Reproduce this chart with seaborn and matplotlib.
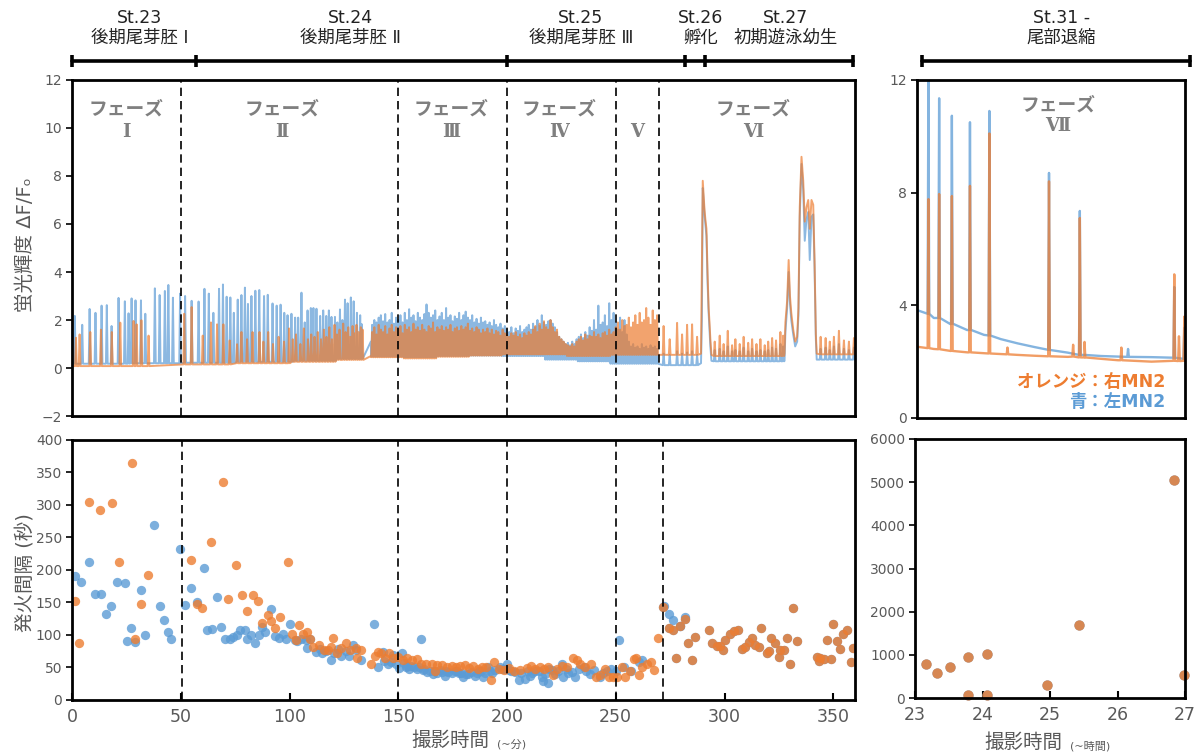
import numpy as np
import matplotlib
matplotlib.use("Agg")
import matplotlib.pyplot as plt
import seaborn as sb

sb.set_style("white")
plt.rcParams["font.family"] = ["DejaVu Sans", "Noto Sans CJK JP"]

BLUE = "#5B9BD5"
ORANGE = "#ED7D31"
GREY = "#595959"

# ---------------- stage / phase annotations ----------------
stage_edges = [0, 57, 200, 282, 291, 359]
stage_names = ["St.23\n後期尾芽胚 Ⅰ", "St.24\n後期尾芽胚 Ⅱ", "St.25\n後期尾芽胚 Ⅲ", "St.26\n孵化", "St.27\n初期遊泳幼生"]
stage_r_edges = [23.07, 27.07]
stage_r_name = "St.31 -\n尾部退縮"
phase_lines_top = [50, 150, 200, 250, 270]
phase_lines_bot = [50.5, 150, 200, 250, 271.5]
phase_nums = ["Ⅰ", "Ⅱ", "Ⅲ", "Ⅳ", "Ⅴ", "Ⅵ"]

# ---------------- fluorescence trace, minutes 0-360 ----------------
# phase I-II: discrete spikes (time, peak, foot)
blue_t1 = [1.3, 4.7, 8.1, 10.8, 13.6, 16.0, 18.2, 21.4, 24.3, 26.0,
           27.4, 29.2, 31.7, 33.7, 38.1, 40.3, 42.7, 44.3, 46.4, 49.7,
           52.0, 55.0, 58.2, 60.9, 62.9, 65.0, 67.6, 69.4, 71.1, 72.8,
           74.4, 76.2, 77.9, 79.5, 80.9, 82.5, 84.3, 86.1, 88.3, 90.0,
           92.2, 94.1, 95.9, 97.6, 99.1, 100.9, 102.6, 104.0, 105.5, 107.0,
           108.3, 109.8, 111.0, 112.4, 114.1, 115.5, 116.9, 118.1, 119.3, 120.9,
           122.0, 123.2, 124.3, 125.5, 126.7, 128.2, 129.5, 131.0, 132.5, 133.2]
blue_p1 = [2.17, 1.8, 2.46, 2.3, 2.6, 2.62, 1.75, 2.92, 2.78, 2.28,
           2.9, 2.82, 2.82, 2.26, 3.32, 3.04, 3.21, 3.46, 2.93, 3.1,
           3.0, 2.8, 2.77, 3.3, 3.1, 2.3, 3.3, 3.48, 2.97, 2.94,
           2.3, 2.85, 3.04, 3.35, 2.67, 3.0, 3.22, 3.25, 3.0, 3.05,
           2.69, 2.6, 2.64, 2.3, 2.2, 2.26, 2.1, 2.1, 3.14, 1.9,
           2.4, 2.5, 2.5, 2.47, 2.17, 2.4, 2.17, 2.4, 2.13, 2.13,
           1.9, 2.44, 2.0, 2.85, 2.7, 2.94, 2.78, 2.3, 2.2, 1.83]
blue_f1 = [0.18] * 10 + [0.2] * 10 + [0.22] * 11 + [0.26] * 15 + [0.3] * 14 + [0.38] * 10

orng_t1 = [1.8, 3.5, 8.4, 13.3, 18.3, 22.2, 28.3, 29.7, 31.9, 35.2,
           51.6, 55.0, 60.1, 63.9, 66.7, 69.6, 72.5, 75.9, 77.9, 80.5,
           83.0, 86.2, 88.0, 90.2, 92.4, 95.0, 97.5, 99.8, 101.5, 103.0,
           105.0, 106.6, 108.5, 110.0, 111.5, 113.0, 114.5, 115.8, 117.0, 118.3,
           119.5, 120.7, 121.8, 123.0, 124.7, 125.8, 127.0, 128.0, 129.0, 130.0,
           130.8, 131.8, 132.8, 133.6]
orng_p1 = [1.26, 1.4, 1.5, 1.6, 1.5, 1.89, 1.96, 1.82, 1.99, 1.35,
           2.26, 2.54, 1.35, 1.9, 1.82, 1.82, 1.15, 0.99, 1.5, 1.2,
           1.5, 1.5, 1.1, 1.5, 1.0, 1.3, 1.1, 1.65, 1.2, 1.4,
           1.0, 1.65, 1.2, 1.4, 1.3, 1.5, 1.2, 1.6, 1.3, 1.7,
           1.2, 1.8, 1.4, 1.6, 1.85, 1.5, 1.7, 1.3, 1.75, 1.45,
           1.8, 1.5, 1.7, 1.6]
orng_f1 = [0.08] * 10 + [0.15] * 7 + [0.2] * 11 + [0.26] * 14 + [0.34] * 12

# phase III-V: one reading per minute, 138-269 min
dense_t = np.arange(138, 270)
orng_pd = [1.5, 1.7, 1.4, 1.8, 1.6, 1.5, 1.75, 1.4, 1.65, 1.8, 1.5, 1.7,
           1.6, 1.75, 1.45, 1.8, 1.6, 1.7, 1.5, 1.85, 1.6, 1.7,
           1.55, 1.8, 1.6, 1.5, 1.75, 1.65, 1.9, 1.5, 1.7, 1.6,
           1.75, 1.55, 1.7, 1.6, 1.8, 1.5, 1.65, 1.7, 1.55, 1.75,
           1.6, 1.7, 1.85, 1.55, 1.65, 1.5, 1.7, 1.6, 1.45, 1.6,
           1.5, 1.65, 1.45, 1.6, 1.4, 1.55, 1.5, 1.35, 1.6, 1.45,
           1.4, 1.3, 1.45, 1.35, 1.5, 1.3, 1.4, 1.25, 1.45, 1.35,
           1.5, 1.4, 1.6, 1.75, 1.5, 1.85, 1.6, 1.95, 1.7, 1.6,
           2.0, 1.7, 1.5, 1.6, 1.3, 1.2, 1.1, 1.0, 0.95, 0.9,
           1.0, 0.9, 1.1, 1.2, 1.3, 1.15, 1.4, 1.2, 1.35, 1.3,
           1.5, 1.3, 1.4, 1.25, 1.45, 1.5, 1.35, 1.6, 1.4, 1.5,
           1.7, 1.9, 1.6, 2.0, 1.75, 1.8, 2.1, 1.7, 1.9, 2.2,
           1.8, 2.3, 1.9, 2.0, 2.5, 2.1, 1.8, 2.4, 2.0, 2.2]
orng_fd = [0.45] * 15 + [0.4] * 15 + [0.47] * 15 + [0.52] * 15 + [0.57] * 30 + [0.5] * 20 + [0.55] * 22
blue_pd = [1.8, 2.0, 1.9, 2.1, 2.2, 1.95, 2.25, 1.9, 2.0, 2.3, 1.85, 2.1,
           2.0, 2.2, 1.9, 2.3, 2.0, 2.45, 2.1, 2.2, 1.95, 2.3,
           2.1, 2.0, 2.25, 2.65, 2.3, 2.1, 2.2, 2.4, 2.0, 2.15,
           2.3, 2.0, 2.5, 2.1, 2.2, 1.95, 2.15, 2.05, 2.3, 2.0,
           2.2, 2.35, 2.1, 2.0, 2.2, 1.9, 2.05, 1.85, 2.1, 1.9,
           1.95, 1.8, 1.9, 1.75, 2.0, 1.8, 1.7, 1.85, 1.65, 1.75,
           1.6, 1.5, 1.7, 1.45, 1.65, 1.55, 1.75, 1.5, 1.6, 1.7,
           1.8, 1.6, 1.85, 1.7, 2.0, 1.75, 2.2, 1.9, 1.8, 1.95,
           2.0, 1.85, 1.7, 1.5, 1.3, 1.2, 1.1, 1.0, 1.05, 0.95,
           1.1, 1.0, 1.2, 1.3, 1.4, 1.25, 1.5, 1.35, 1.7, 1.55,
           2.0, 1.6, 2.6, 1.8, 1.9, 2.2, 1.75, 2.7, 2.0, 2.3,
           1.9, 1.6, 2.1, 1.5, 2.0, 1.4, 1.1, 0.9, 1.0, 0.85,
           0.9, 0.8, 1.0, 0.85, 0.9, 0.8, 0.95, 0.85, 0.9, 0.8]
blue_fd = [0.48] * 15 + [0.45] * 15 + [0.5] * 15 + [0.52] * 15 + [0.5] * 20 + [0.35] * 15 + [0.28] * 15 + [0.18] * 22

# phase VI: spikes plus two bursts
vi_t = [272.0, 274.8, 278.2, 280.5, 282.8, 285.1, 287.4,
        295.5, 297.8, 299.6, 301.5, 303.5, 305.0, 307.0, 308.8, 310.9,
        312.7, 314.7, 316.5, 318.5, 320.1, 321.9, 323.7, 325.7, 327.0,
        344.2, 346.5, 348.4, 350.3, 352.6, 354.9, 357.2, 359.5]
orng_p6 = [1.75, 1.2, 1.88, 1.4, 1.8, 1.82, 1.3,
           1.1, 1.35, 1.0, 1.55, 0.95, 1.2, 1.0, 1.3, 1.05,
           1.2, 1.0, 1.2, 0.95, 1.1, 1.25, 1.15, 1.5, 1.35,
           1.3, 1.25, 1.1, 1.3, 1.55, 1.15, 1.1, 1.25]
orng_f6 = [0.55] * 7 + [0.5] * 18 + [0.57] * 8
blue_p6 = [0.6, 0.55, 0.7, 0.6, 0.65, 0.7, 0.55,
           0.75, 0.8, 0.7, 0.9, 0.7, 0.75, 0.7, 0.85, 0.7,
           0.8, 0.7, 0.75, 0.7, 0.75, 0.85, 0.8, 1.0, 0.9,
           0.8, 0.85, 0.75, 0.9, 1.0, 0.8, 0.75, 0.85]
blue_f6 = [0.12] * 7 + [0.28] * 18 + [0.35] * 8

burst1_t = [289.2, 289.6, 290.0, 290.4, 290.8, 291.2, 291.7, 292.2, 292.7, 293.1, 293.5, 294.0]
burst1_o = [0.6, 4.0, 7.8, 7.2, 6.6, 6.2, 5.8, 4.0, 2.5, 1.9, 1.2, 0.55]
burst1_b = [0.2, 2.0, 7.5, 7.0, 6.4, 6.0, 5.5, 3.6, 2.3, 1.6, 0.9, 0.3]
burst2_t = [327.6, 328.0, 328.8, 329.5, 330.1, 330.7, 331.6, 332.5, 333.4, 334.0, 334.6,
            335.4, 336.2, 336.9, 337.7, 338.5, 339.2, 340.0, 340.8, 341.4, 342.0, 342.4]
burst2_o = [0.6, 1.9, 2.8, 4.5, 3.0, 2.3, 1.6, 1.1, 1.3, 2.5, 6.7,
            8.8, 7.8, 6.1, 6.7, 7.0, 5.8, 7.0, 6.8, 4.5, 1.4, 0.6]
burst2_b = [0.3, 1.5, 2.5, 4.0, 2.7, 2.0, 1.4, 0.9, 1.1, 2.2, 6.3,
            8.5, 7.4, 5.3, 6.2, 6.5, 4.5, 6.3, 6.4, 4.2, 1.2, 0.35]

# baseline anchors (start, gap at 134-137 min, end)
orng_knot_t = [0, 134.0, 137.4, 360]
orng_knot_v = [0.08, 0.36, 0.5, 0.57]
blue_knot_t = [0, 134.0, 137.4, 360]
blue_knot_v = [0.18, 0.45, 1.1, 0.35]

# ---------------- fluorescence trace, hours 23-27 ----------------
base_r_t = [23.0, 23.25, 23.5, 23.75, 24.0, 24.25, 24.5, 24.75, 25.0, 25.25, 25.5, 25.75, 26.0, 26.5, 27.0]
blue_base_r = [3.83, 3.55, 3.33, 3.12, 2.95, 2.8, 2.65, 2.52, 2.41, 2.32, 2.24, 2.2, 2.18, 2.16, 2.1]
orng_base_r = [2.53, 2.45, 2.38, 2.33, 2.3, 2.27, 2.24, 2.21, 2.19, 2.17, 2.15, 2.1, 2.05, 2.0, 2.03]
spk_r_t = [23.17, 23.33, 23.52, 23.79, 24.08, 24.97, 25.43, 26.84, 26.99]
blue_spk_r = [12.3, 11.35, 10.73, 10.5, 10.9, 8.7, 7.35, 4.65, 3.2]
blue_foot_r = [3.7, 3.55, 3.35, 3.13, 2.93, 2.42, 2.24, 2.14, 2.1]
orng_spk_r = [7.77, 7.95, 7.88, 8.24, 10.1, 8.4, 7.1, 5.1, 3.6]
orng_foot_r = [2.48, 2.44, 2.38, 2.33, 2.29, 2.19, 2.15, 2.03, 2.03]
small_r_t = [24.35, 25.33, 25.5, 26.05, 26.91]
orng_small_r = [2.5, 2.6, 2.7, 2.5, 2.9]
orng_small_f = [2.26, 2.18, 2.15, 2.05, 2.02]
blue_small_t = [26.15]
blue_small_r = [2.45]
blue_small_f = [2.17]

# ---------------- firing intervals (s) ----------------
blue_x = [1.2, 4.2, 7.6, 10.8, 13.4, 15.7, 18.0, 20.6, 24.2, 25.2,
          27.2, 28.8, 31.8, 33.4, 37.7, 40.3, 42.3, 44.1, 45.7, 49.5,
          51.8, 54.9, 57.5, 60.7, 62.2, 64.4, 66.8, 68.7, 70.5, 72.5,
          74.0, 75.9, 77.4, 79.4, 80.5, 82.2, 84.0, 86.0, 87.4, 88.9,
          91.7, 93.4, 95.2, 97.1, 98.3, 100.4, 102.4, 103.5, 105.5, 107.5,
          108.1, 109.3, 112.1, 113.9, 115.0, 117.0, 119.0, 120.5, 122.4, 123.9,
          126.2, 127.4, 129.0, 130.5, 132.8, 139.0, 140.8, 142.8, 145.4, 147.4,
          150.3, 151.5, 153.5, 155.1, 157.2, 160.4, 161.5, 163.0, 165.8, 167.6,
          171.5, 173.0, 176, 179, 180, 182, 185.3, 187, 189.1, 191.4,
          193, 196.8, 200.2, 202, 205.3, 208.3, 210.6, 213, 216.0, 216.7,
          218.8, 219.1, 222, 225.2, 225.7, 228, 231.4, 235.2, 238, 242.9,
          246, 251.3, 253.6, 257, 260.5, 262.1, 272.0, 274.3, 276.4, 279.7,
          282.0,
          143.5, 146.5, 149, 152.5, 154, 156, 158.5, 159.5, 162, 164.5,
          166.5, 169, 170, 172, 174.5, 177, 178, 181, 183.5, 186,
          188, 190, 192, 194.5, 197.5, 199, 201, 203.5, 206.5, 209.5,
          211.5, 214.5, 217.5, 220.5, 223.5, 227, 230, 233, 236.5, 240,
          244, 248, 250]
blue_y = [190, 182, 212, 163, 163, 133, 144, 182, 180, 91,
          111, 89, 169, 100, 269, 145, 123, 104, 94, 232,
          146, 172, 150, 203, 107, 109, 159, 112, 94, 94,
          97, 100, 107, 108, 94, 100, 88, 100, 112, 104,
          140, 99, 96, 102, 94, 117, 93, 90, 94, 92,
          80, 94, 74, 79, 73, 76, 62, 73, 79, 68,
          76, 67, 85, 77, 62, 117, 50, 74, 56, 69,
          49, 72, 50, 47, 51, 94, 46, 43, 40, 41,
          37, 43, 45, 42, 35, 40, 37, 44, 36, 51,
          42, 51, 55, 44, 31, 33, 37, 44, 35, 29,
          26, 48, 40, 55, 36, 42, 35, 51, 40, 35,
          44, 92, 51, 45, 58, 62, 145, 133, 123, 114,
          127,
          60, 58, 55, 57, 52, 53, 48, 50, 47, 45,
          44, 46, 43, 45, 41, 44, 42, 40, 43, 41,
          45, 42, 44, 46, 48, 47, 46, 43, 42, 45,
          41, 44, 40, 46, 44, 47, 43, 48, 45, 46,
          42, 47, 44]
orng_x = [1.6, 3.0, 7.7, 13.0, 18.2, 21.5, 27.4, 29.1, 31.7, 34.9,
          54.9, 57.5, 59.6, 63.8, 69.3, 71.9, 75.6, 78.2, 80.3, 83.0,
          85.7, 87.4, 90.0, 91.5, 93.4, 95.8, 99.4, 101.2, 102.9, 104.4,
          106.0, 108.0, 109.4, 110.9, 113.5, 115.8, 117.8, 119.0, 120.1, 121.9,
          123.9, 126.2, 127.8, 130.5, 131.1, 133.1, 137.7, 139.3, 140.8, 142.0,
          143.9, 145.9, 147.7, 149.7, 152.3, 154.1, 156.2, 158.5, 160.3, 162.8,
          165.4, 166.8, 167.7, 170.0, 172.3, 174.5, 176.5, 178.5, 180.7, 182.5,
          184.5, 186.5, 188.5, 190.5, 192.7, 194.1, 196.2, 198.4, 201.0, 203.0,
          206.0, 209.1, 211.0, 212.9, 215.0, 216.8, 219.0, 221.1, 223.0, 225.5,
          227.5, 230.3, 232.1, 233.7, 236.0, 238.7, 241.0, 242.9, 245.2, 246.7,
          248.7, 250.5, 252.8, 254.4, 256.4, 258.2, 259.4, 260.5, 262.1, 264.4,
          266.2, 267.4, 269.3]
orng_y = [153, 87, 305, 293, 303, 213, 364, 94, 147, 193,
          216, 148, 141, 243, 336, 156, 207, 161, 137, 161,
          153, 118, 130, 121, 111, 128, 212, 102, 93, 115,
          102, 105, 94, 81, 85, 77, 77, 81, 96, 73,
          80, 87, 77, 80, 64, 77, 55, 67, 74, 73,
          64, 73, 64, 66, 62, 64, 62, 63, 56, 56,
          55, 45, 54, 54, 51, 53, 50, 52, 54, 49,
          52, 48, 51, 50, 31, 58, 47, 46, 49, 45,
          46, 49, 52, 48, 50, 47, 51, 39, 47, 52,
          50, 65, 62, 55, 50, 56, 36, 39, 47, 36,
          36, 36, 50, 36, 45, 63, 65, 38, 51, 56,
          58, 46, 95]
# phase VI: both neurons give the same intervals
vi_x = [271.7, 274.3, 276.4, 277.9, 279.7, 282.0, 283.2, 285.1, 286.6, 292.7,
        294.3, 296.6, 298.1, 299.4, 300.4, 302.4, 304.3, 306.1, 308.1, 309.6,
        311.2, 312.7, 314.2, 315.8, 316.9, 319.6, 320.4, 321.5, 323.4, 325.0,
        325.7, 327.3, 328.8, 330.3, 331.3, 333.4, 342.6, 343.4, 344.1, 345.7,
        346.9, 348.8, 350.0, 351.5, 353.0, 354.6, 356.1, 358.0, 359.2]
vi_y = [143, 111, 108, 65, 114, 125, 88, 62, 97, 108,
        88, 83, 83, 77, 92, 102, 106, 108, 79, 82,
        89, 96, 84, 82, 111, 72, 76, 96, 87, 66,
        77, 77, 96, 56, 141, 90, 66, 60, 64, 63,
        93, 63, 117, 90, 79, 102, 108, 59, 80]
hr_x = [23.16, 23.32, 23.52, 23.79, 23.79, 24.07, 24.07, 24.96, 25.43, 26.83, 26.99]
hr_y = [790, 570, 720, 960, 60, 1030, 60, 300, 1690, 5040, 530]


def build_trace(knot_t, knot_v, groups, w):
    # baseline anchors + (time, peak, foot) spikes + raw vertex groups
    t = list(knot_t)
    v = list(knot_v)
    for g in groups:
        if len(g) == 3:
            for a, p, f in zip(*g):
                t += [a - w, a, a + w]
                v += [f, p, f]
        else:
            t += list(g[0])
            v += list(g[1])
    t = np.array(t, dtype=float)
    v = np.array(v, dtype=float)
    o = np.argsort(t, kind="stable")
    return t[o], v[o]


fig = plt.figure(figsize=(12, 7.53), dpi=100)
ax1 = fig.add_axes([0.06, 0.4475, 0.6525, 0.4463])
ax2 = fig.add_axes([0.06, 0.0704, 0.6525, 0.3453])
ax3 = fig.add_axes([0.7642, 0.4449, 0.2233, 0.4489])
ax4 = fig.add_axes([0.7625, 0.073, 0.225, 0.3440])
bar_l = fig.add_axes([0.06, 0.8938, 0.6525, 0.1062])
bar_r = fig.add_axes([0.7642, 0.8938, 0.2233, 0.1062])

# ---- top-left traces
bt, bv = build_trace(blue_knot_t, blue_knot_v,
                     [(blue_t1, blue_p1, blue_f1), (dense_t, blue_pd, blue_fd),
                      (vi_t, blue_p6, blue_f6), (burst1_t, burst1_b), (burst2_t, burst2_b)], 0.4)
ot, ov = build_trace(orng_knot_t, orng_knot_v,
                     [(orng_t1, orng_p1, orng_f1), (dense_t, orng_pd, orng_fd),
                      (vi_t, orng_p6, orng_f6), (burst1_t, burst1_o), (burst2_t, burst2_o)], 0.4)
sb.lineplot(x=bt, y=bv, ax=ax1, color=BLUE, lw=1.4, alpha=0.7, sort=False, estimator=None)
sb.lineplot(x=ot, y=ov, ax=ax1, color=ORANGE, lw=1.4, alpha=0.7, sort=False, estimator=None)
ax1.set_xlim(0, 360)
ax1.set_ylim(-2, 12)
ax1.set_yticks(range(-2, 13, 2))
ax1.set_xticks([])

# ---- bottom-left scatter
sb.scatterplot(x=blue_x + vi_x, y=blue_y + vi_y, ax=ax2, color=BLUE, s=45, alpha=0.8, linewidth=0)
sb.scatterplot(x=orng_x + vi_x, y=orng_y + vi_y, ax=ax2, color=ORANGE, s=45, alpha=0.8, linewidth=0)
ax2.set_xlim(0, 360)
ax2.set_ylim(0, 400)
ax2.set_xticks(range(0, 351, 50))
ax2.set_yticks(range(0, 401, 50))

# ---- top-right traces
bt, bv = build_trace(base_r_t, blue_base_r,
                     [(spk_r_t, blue_spk_r, blue_foot_r), (blue_small_t, blue_small_r, blue_small_f)], 0.012)
ot, ov = build_trace(base_r_t, orng_base_r,
                     [(spk_r_t, orng_spk_r, orng_foot_r), (small_r_t, orng_small_r, orng_small_f)], 0.012)
sb.lineplot(x=bt, y=bv, ax=ax3, color=BLUE, lw=1.7, alpha=0.75, sort=False, estimator=None)
sb.lineplot(x=ot, y=ov, ax=ax3, color=ORANGE, lw=1.7, alpha=0.75, sort=False, estimator=None)
ax3.set_xlim(23, 27)
ax3.set_ylim(0, 12)
ax3.set_yticks([0, 4, 8, 12])
ax3.set_xticks([])

# ---- bottom-right scatter
sb.scatterplot(x=hr_x, y=hr_y, ax=ax4, color=BLUE, s=55, alpha=0.8, linewidth=0, clip_on=False)
sb.scatterplot(x=hr_x, y=hr_y, ax=ax4, color=ORANGE, s=55, alpha=0.8, linewidth=0, clip_on=False)
ax4.set_xlim(23, 27)
ax4.set_ylim(0, 6000)
ax4.set_xticks(range(23, 28))
ax4.set_yticks(range(0, 6001, 1000))

for ax in (ax1, ax2, ax3, ax4):
    for sp in ax.spines.values():
        sp.set_visible(True)
        sp.set_color("black")
        sp.set_linewidth(2)
    ax.tick_params(axis="y", direction="out", length=4, width=1.2, color="black",
                   labelsize=10, labelcolor=GREY, left=True, pad=3)
    ax.tick_params(axis="x", direction="in", length=5, width=1.5, color="black",
                   labelsize=12.5, labelcolor=GREY, bottom=True, pad=6)
    ax.set_xlabel("")
    ax.set_ylabel("")
    if ax.get_legend():
        ax.get_legend().remove()

for x in phase_lines_top:
    ax1.axvline(x, color="black", lw=1.2, ls=(0, (5, 3)))
for x in phase_lines_bot:
    ax2.axvline(x, color="black", lw=1.2, ls=(0, (5, 3)))

# phase labels
phase_x = [25, 96.5, 174.5, 224, 260, 313]
for x, num in zip(phase_x, phase_nums):
    if num != "Ⅴ":
        ax1.text(x, 10.8, "フェーズ", ha="center", va="center", fontsize=13.5,
                 fontweight="bold", color="#7f7f7f")
    ax1.text(x, 9.85, num, ha="center", va="center", fontsize=13,
             fontweight="bold", color="#7f7f7f", family=["DejaVu Serif", "Noto Sans CJK JP"])
ax3.text(25.1, 11.1, "フェーズ", ha="center", va="center", fontsize=13.5, fontweight="bold", color="#7f7f7f")
ax3.text(25.1, 10.35, "Ⅶ", ha="center", va="center", fontsize=13, fontweight="bold", color="#7f7f7f",
         family=["DejaVu Serif", "Noto Sans CJK JP"])
ax3.text(0.925, 0.107, "オレンジ：右MN2", transform=ax3.transAxes, ha="right", va="center",
         fontsize=12.5, fontweight="bold", color=ORANGE)
ax3.text(0.925, 0.048, "青：左MN2", transform=ax3.transAxes, ha="right", va="center",
         fontsize=12.5, fontweight="bold", color=BLUE)

# stage bars
stage_label_x = [31, 128, 234, 289, 328]
bar_l.plot([stage_edges[0], stage_edges[-1]], [0.24, 0.24], color="black", lw=2.6, clip_on=False)
bar_l.plot(stage_edges, [0.24] * len(stage_edges), ls="none", marker="|", ms=9, mew=2.6,
           color="black", clip_on=False)
for x, name in zip(stage_label_x, stage_names):
    bar_l.text(x, 0.65, name, ha="center", va="center", fontsize=12.5, color="#222222", linespacing=1.15)
bar_l.set_xlim(0, 360)
bar_l.set_ylim(0, 1)
bar_l.axis("off")

bar_r.plot(stage_r_edges, [0.24, 0.24], color="black", lw=2.6, clip_on=False)
bar_r.plot(stage_r_edges, [0.24, 0.24], ls="none", marker="|", ms=9, mew=2.6, color="black", clip_on=False)
bar_r.text(25.15, 0.65, stage_r_name, ha="center", va="center", fontsize=12.5, color="#222222", linespacing=1.15)
bar_r.set_xlim(23, 27)
bar_r.set_ylim(0, 1)
bar_r.axis("off")

# axis titles
fig.text(0.021, 0.675, "蛍光輝度 ΔF/Fₒ", rotation=90, ha="center", va="center", fontsize=14, color=GREY)
fig.text(0.021, 0.239, "発火間隔 (秒)", rotation=90, ha="center", va="center", fontsize=14, color=GREY)
fig.text(450 / 1200, 1 - 740 / 753, "撮影時間", ha="center", va="center", fontsize=14, color=GREY)
fig.text(512 / 1200, 1 - 744 / 753, "(~分)", ha="center", va="center", fontsize=8, color=GREY)
fig.text(1023 / 1200, 1 - 742 / 753, "撮影時間", ha="center", va="center", fontsize=14, color=GREY)
fig.text(1090 / 1200, 1 - 746 / 753, "(~時間)", ha="center", va="center", fontsize=8, color=GREY)

plt.savefig("out.png", dpi=100)
plt.close()
